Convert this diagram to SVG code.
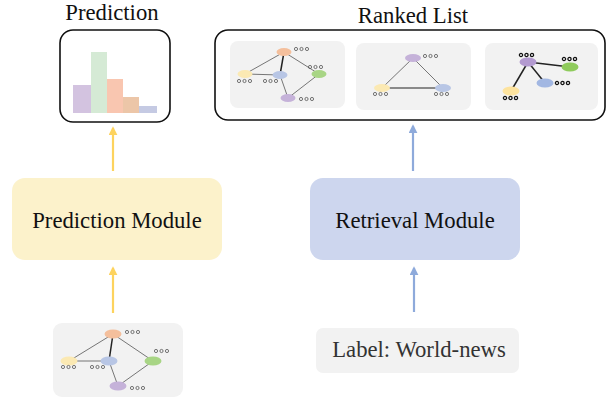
<svg xmlns="http://www.w3.org/2000/svg" width="607" height="400" viewBox="0 0 607 400">
<defs>
<style>
.t{font-family:"Liberation Serif",serif;font-size:22.7px;fill:#111;text-anchor:middle}
.frame{fill:#fff;stroke:#111;stroke-width:1.6}
.card{fill:#f2f2f2}
.e{stroke:#555;stroke-width:0.8;fill:none}
.eb{stroke:#222;stroke-width:1.5;fill:none}
.d{fill:none;stroke:#555;stroke-width:0.8}
.db{fill:none;stroke:#111;stroke-width:1.3}
.or{fill:#f4bf9c}.ye{fill:#fbe9b3}.bl{fill:#b8c6e5}.gr{fill:#a8d585}.pu{fill:#c5b2d9}
.pu2{fill:#b39ad0}.gr2{fill:#8fcb5c}.bl2{fill:#a2b7e2}.ye2{fill:#fde39e}
</style>
<marker id="ay" viewBox="0 0 10 10" refX="8" refY="5" markerWidth="9" markerHeight="9" orient="auto" markerUnits="userSpaceOnUse"><path d="M0,0 L10,5 L0,10 Z" fill="#fdd35e"/></marker>
<marker id="ab" viewBox="0 0 10 10" refX="8" refY="5" markerWidth="9" markerHeight="9" orient="auto" markerUnits="userSpaceOnUse"><path d="M0,0 L10,5 L0,10 Z" fill="#8eaadb"/></marker>
<g id="ooo"><circle cx="0" cy="0" r="1.6"/><circle cx="5.5" cy="0" r="1.6"/><circle cx="11" cy="0" r="1.6"/></g>
</defs>

<g id="prediction">
<text class="t" x="112" y="20">Prediction</text>
<rect class="frame" x="60" y="30" width="110" height="92" rx="13"/>
<rect x="73" y="85" width="18" height="28" fill="#d3c3e0"/>
<rect x="91" y="52" width="16" height="61" fill="#d5ead5"/>
<rect x="107" y="79" width="16" height="34" fill="#f9c6b0"/>
<rect x="123" y="97" width="16" height="16" fill="#ecc6a8"/>
<rect x="139" y="106" width="18" height="7" fill="#c5cae3"/>
</g>

<g id="ranked-list">
<text class="t" x="413" y="23">Ranked List</text>
<rect class="frame" x="215" y="30" width="390" height="90" rx="13"/>
<g id="card1">
<rect class="card" x="230" y="41" width="115" height="67" rx="8"/>
<line class="e" x1="284" y1="52" x2="245" y2="74"/>
<line class="eb" x1="284" y1="52" x2="280" y2="75"/>
<line class="e" x1="284" y1="52" x2="319" y2="74"/>
<line class="e" x1="245" y1="74" x2="280" y2="75"/>
<line class="e" x1="280" y1="75" x2="288" y2="98"/>
<line class="e" x1="319" y1="74" x2="288" y2="98"/>
<ellipse class="or" cx="284" cy="52" rx="7.5" ry="4"/>
<ellipse class="ye" cx="245" cy="74" rx="7.5" ry="4"/>
<ellipse class="bl" cx="280" cy="75" rx="7.5" ry="4"/>
<ellipse class="gr" cx="319" cy="74" rx="7.5" ry="4"/>
<ellipse class="pu" cx="288" cy="98" rx="7.5" ry="4"/>
<use href="#ooo" class="d" x="296" y="49"/>
<use href="#ooo" class="d" x="310" y="67"/>
<use href="#ooo" class="d" x="239" y="81"/>
<use href="#ooo" class="d" x="265" y="81"/>
<use href="#ooo" class="d" x="301" y="99"/>
</g>
<g id="card2">
<rect class="card" x="356" y="43" width="115" height="67" rx="8"/>
<line class="e" x1="413" y1="58" x2="382" y2="88"/>
<line class="e" x1="413" y1="58" x2="443" y2="88"/>
<line class="eb" x1="382" y1="88" x2="443" y2="88" style="stroke-width:1"/>
<ellipse class="pu" cx="413" cy="58" rx="8" ry="4"/>
<ellipse class="ye" cx="382" cy="88" rx="8" ry="4"/>
<ellipse class="bl" cx="443" cy="88" rx="8" ry="4"/>
<use href="#ooo" class="d" x="425" y="56"/>
<use href="#ooo" class="d" x="375" y="94"/>
<use href="#ooo" class="d" x="436" y="94"/>
</g>
<g id="card3">
<rect class="card" x="485" y="43" width="113" height="67" rx="8"/>
<line class="eb" x1="528" y1="62" x2="570" y2="67"/>
<line class="eb" x1="528" y1="62" x2="545" y2="83"/>
<line class="eb" x1="528" y1="62" x2="511" y2="91"/>
<ellipse class="pu2" cx="528" cy="62" rx="8.5" ry="4.5"/>
<ellipse class="gr2" cx="570" cy="67" rx="8.5" ry="4.5"/>
<ellipse class="bl2" cx="545" cy="83" rx="8.5" ry="4.5"/>
<ellipse class="ye2" cx="511" cy="91" rx="8.5" ry="4.5"/>
<use href="#ooo" class="db" x="521" y="55"/>
<use href="#ooo" class="db" x="564" y="59"/>
<use href="#ooo" class="db" x="557" y="83"/>
<use href="#ooo" class="db" x="505" y="98"/>
</g>
</g>

<g id="prediction-module">
<rect x="12" y="178" width="210" height="82" rx="13" fill="#fcf2cb"/>
<text class="t" x="117" y="228">Prediction Module</text>
</g>

<g id="retrieval-module">
<rect x="310" y="178" width="210" height="82" rx="13" fill="#cdd6ee"/>
<text class="t" x="415" y="228">Retrieval Module</text>
</g>

<g id="input-graph">
<rect class="card" x="53" y="323" width="130" height="74" rx="9"/>
<line class="e" x1="113" y1="334" x2="69" y2="361"/>
<line class="eb" x1="113" y1="334" x2="109" y2="361"/>
<line class="e" x1="113" y1="334" x2="153" y2="361"/>
<line class="e" x1="69" y1="361" x2="109" y2="361"/>
<line class="e" x1="109" y1="361" x2="118" y2="386"/>
<line class="e" x1="153" y1="361" x2="118" y2="386"/>
<ellipse class="or" cx="113" cy="334" rx="8.5" ry="4.5"/>
<ellipse class="ye" cx="69" cy="361" rx="8.5" ry="4.5"/>
<ellipse class="bl" cx="109" cy="361" rx="8.5" ry="4.5"/>
<ellipse class="gr" cx="153" cy="361" rx="8.5" ry="4.5"/>
<ellipse class="pu" cx="118" cy="386" rx="8.5" ry="4.5"/>
<use href="#ooo" class="d" x="127" y="332"/>
<use href="#ooo" class="d" x="156" y="351"/>
<use href="#ooo" class="d" x="63" y="367"/>
<use href="#ooo" class="d" x="92" y="367"/>
<use href="#ooo" class="d" x="132" y="388"/>
</g>

<g id="label">
<rect class="card" x="316" y="328" width="203" height="45" rx="7"/>
<text class="t" x="419" y="357" style="fill:#333">Label: World-news</text>
</g>

<g id="connectors">
<line x1="113" y1="171" x2="113" y2="128" stroke="#fdd35e" stroke-width="2.2" marker-end="url(#ay)"/>
<line x1="413" y1="171" x2="413" y2="126" stroke="#8eaadb" stroke-width="2.2" marker-end="url(#ab)"/>
<line x1="113" y1="313" x2="113" y2="268" stroke="#fdd35e" stroke-width="2.2" marker-end="url(#ay)"/>
<line x1="414" y1="312" x2="414" y2="268" stroke="#8eaadb" stroke-width="2.2" marker-end="url(#ab)"/>
</g>
</svg>
